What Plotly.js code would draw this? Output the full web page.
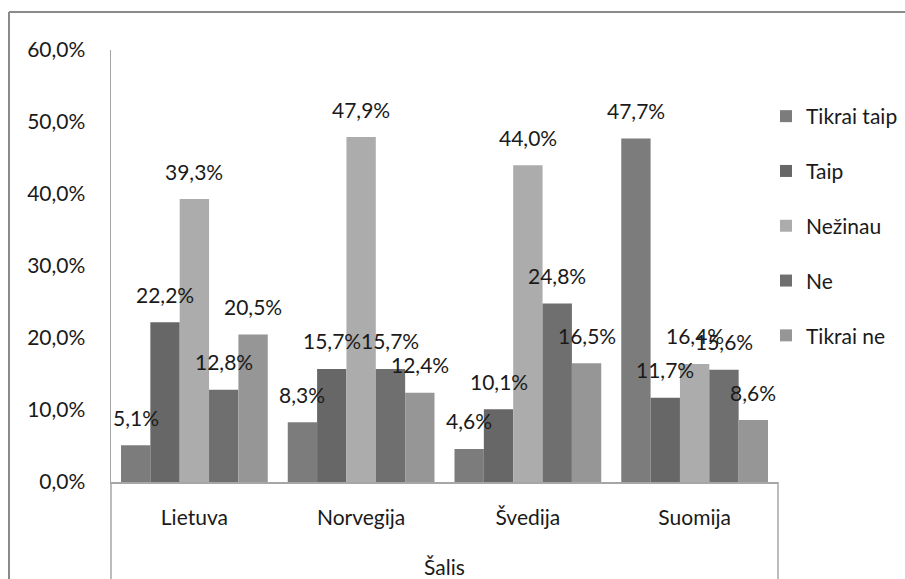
<!DOCTYPE html>
<html>
<head>
<meta charset="utf-8">
<script src="https://cdn.plot.ly/plotly-3.0.1.min.js"></script>
<style>html,body{margin:0;padding:0;background:#fff;}#chart{width:905px;height:579px;}</style>
</head>
<body>
<div id="chart"></div>
<script>
// ---- data ----
const categories = ["Lietuva", "Norvegija", "Švedija", "Suomija"];
const seriesNames = ["Tikrai taip", "Taip", "Nežinau", "Ne", "Tikrai ne"];
const tikraiTaip = [5.1, 8.3, 4.6, 47.7];
const taip       = [22.2, 15.7, 10.1, 11.7];
const nezinau    = [39.3, 47.9, 44.0, 16.4];
const ne         = [12.8, 15.7, 24.8, 15.6];
const tikraiNe   = [20.5, 12.4, 16.5, 8.6];
const yTickVals  = [0, 10, 20, 30, 40, 50, 60];
const axisTitle  = "Šalis";

const seriesValues = [tikraiTaip, taip, nezinau, ne, tikraiNe];
const colors = ["#7c7c7c", "#676767", "#acacac", "#6f6f6f", "#969696"];

const FONT = 'Lato, "Open Sans", sans-serif';
const FS = 21;
const TXT = '#1a1a1a';
const W = 905, H = 579;
const M = {l: 111, r: 127, t: 50, b: 97, autoexpand: false};
const plotW = W - M.l - M.r, plotH = H - M.t - M.b;
const px2x = p => (p - M.l) / plotW;
const py2y = p => (H - M.b - p) / plotH;

const bargap = 0.12;
const xs = categories.map((c, i) => i);
const nS = seriesValues.length;
const bw = (1 - bargap) / nS;
const fmt = v => v.toFixed(1).replace('.', ',') + '%';

const traces = seriesValues.map((vals, i) => ({
  type: 'bar',
  name: seriesNames[i],
  x: xs,
  y: vals,
  marker: {color: colors[i], line: {width: 0}},
  legendgroup: 'g' + i,
  hoverinfo: 'none'
}));

const annotations = [];
seriesValues.forEach((vals, i) => {
  const off = -(1 - bargap) / 2 + (i + 0.5) * bw;
  vals.forEach((v, j) => {
    annotations.push({
      x: xs[j] + off, y: v, xref: 'x', yref: 'y',
      text: fmt(v), showarrow: false,
      yanchor: 'middle', yshift: 28,
      font: {family: FONT, size: FS, color: TXT}
    });
  });
});

const shapes = [
  // outer frame (top and left)
  {type: 'line', xref: 'paper', yref: 'paper', x0: px2x(9), x1: px2x(906), y0: py2y(12), y1: py2y(12), line: {color: '#8a8a8a', width: 2}},
  {type: 'line', xref: 'paper', yref: 'paper', x0: px2x(9), x1: px2x(9), y0: py2y(12), y1: py2y(580), line: {color: '#8a8a8a', width: 2}},
  // category axis box sides
  {type: 'line', xref: 'paper', yref: 'paper', x0: 0, x1: 0, y0: 0, y1: py2y(580), line: {color: '#a6a6a6', width: 1.5}},
  {type: 'line', xref: 'paper', yref: 'paper', x0: 1, x1: 1, y0: 0, y1: py2y(580), line: {color: '#a6a6a6', width: 1.5}}
];

const layout = {
  width: W, height: H,
  margin: M,
  paper_bgcolor: '#ffffff', plot_bgcolor: '#ffffff',
  font: {family: FONT, size: FS, color: TXT},
  barmode: 'group', bargap: bargap, bargroupgap: 0,
  showlegend: true,
  legend: {
    x: px2x(766), xanchor: 'left', y: py2y(96), yanchor: 'top',
    font: {family: FONT, size: FS, color: TXT},
    tracegroupgap: 24.5, bgcolor: 'rgba(0,0,0,0)', borderwidth: 0
  },
  xaxis: {
    range: [-0.5, categories.length - 0.5],
    tickmode: 'array', tickvals: xs, ticktext: categories,
    showline: true, linecolor: '#a6a6a6', linewidth: 1.5,
    showgrid: false, zeroline: false, ticks: '',
    ticklabelstandoff: 16,
    title: {text: axisTitle, standoff: 32, font: {family: FONT, size: FS, color: TXT}},
    fixedrange: true
  },
  yaxis: {
    range: [0, 60], tickmode: 'array', tickvals: yTickVals,
    ticktext: yTickVals.map(fmt),
    showline: true, linecolor: '#a6a6a6', linewidth: 1.5,
    showgrid: false, zeroline: false, ticks: '',
    ticklabelstandoff: 20,
    fixedrange: true
  },
  annotations: annotations,
  shapes: shapes
};

Plotly.newPlot('chart', traces, layout, {staticPlot: true, displayModeBar: false});
</script>
</body>
</html>
